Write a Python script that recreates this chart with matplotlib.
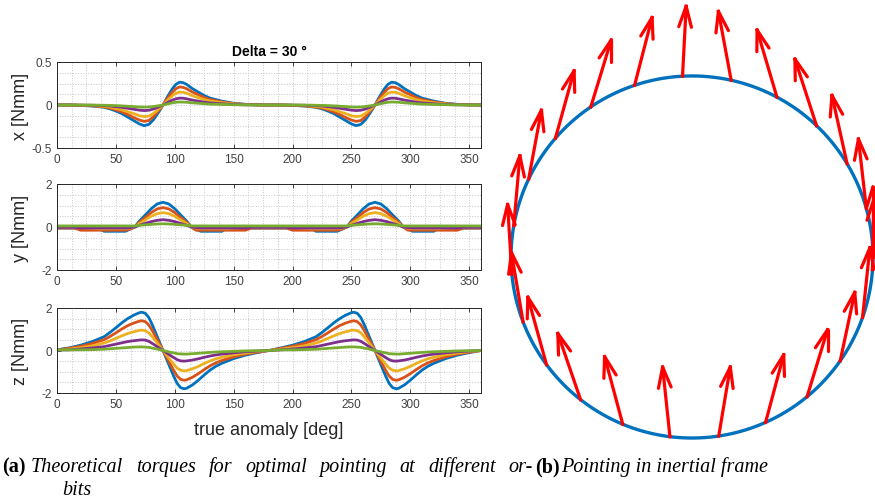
import numpy as np
import matplotlib
matplotlib.use("Agg")
from matplotlib import pyplot as plt
from matplotlib.ticker import MultipleLocator, FormatStrFormatter

# %% Torque profiles, read over half an orbit (the profile repeats every 180 deg)
x_deg = [0, 10, 20, 30, 40, 45, 50, 55, 60, 65, 70, 74, 78, 82, 86, 90, 94, 98, 101, 104,
         107, 110, 115, 120, 125, 130, 140, 150, 160, 170, 180]
x_blue = [0, 0, -0.005, -0.012, -0.027, -0.045, -0.07, -0.1, -0.14, -0.18, -0.22, -0.24, -0.225, -0.17,
          -0.09, 0, 0.1, 0.19, 0.24, 0.265, 0.26, 0.24, 0.19, 0.15, 0.11, 0.08, 0.045, 0.02, 0.008, 0.002, 0]
x_orange = [0, 0, -0.004, -0.01, -0.022, -0.036, -0.056, -0.08, -0.11, -0.145, -0.175, -0.19, -0.18, -0.135,
            -0.07, 0, 0.08, 0.15, 0.19, 0.21, 0.205, 0.19, 0.15, 0.12, 0.087, 0.063, 0.036, 0.016, 0.006, 0.002, 0]
x_yellow = [0, 0, -0.003, -0.007, -0.015, -0.025, -0.04, -0.056, -0.078, -0.1, -0.125, -0.135, -0.128, -0.097,
            -0.05, 0, 0.057, 0.108, 0.137, 0.15, 0.148, 0.137, 0.108, 0.085, 0.063, 0.046, 0.026, 0.011, 0.005, 0.001, 0]
x_purple = [0, 0, -0.001, -0.003, -0.007, -0.012, -0.019, -0.027, -0.038, -0.049, -0.06, -0.065, -0.061, -0.046,
            -0.024, 0, 0.03, 0.057, 0.072, 0.08, 0.079, 0.072, 0.057, 0.045, 0.033, 0.024, 0.014, 0.006, 0.002, 0.001, 0]
x_green = [0, 0, 0, -0.001, -0.003, -0.005, -0.007, -0.01, -0.014, -0.019, -0.023, -0.025, -0.023, -0.018,
           -0.009, 0, 0.013, 0.025, 0.032, 0.035, 0.034, 0.032, 0.025, 0.02, 0.015, 0.01, 0.006, 0.003, 0.001, 0, 0]

y_deg = [0, 15, 20, 35, 40, 58, 62, 66, 70, 75, 80, 85, 90, 95, 100, 105, 110, 114, 118, 122,
         140, 144, 160, 165, 180]
y_blue = [-0.05, -0.05, -0.05, -0.05, -0.2, -0.2, -0.1, 0, 0.28, 0.56, 0.85, 1.07, 1.15, 1.07, 0.85,
          0.56, 0.28, 0, -0.1, -0.2, -0.2, -0.05, -0.05, -0.05, -0.05]
y_orange = [-0.05, -0.05, -0.15, -0.15, -0.15, -0.15, -0.1, 0, 0.22, 0.44, 0.67, 0.84, 0.9, 0.84, 0.67,
            0.44, 0.22, 0, -0.15, -0.15, -0.15, -0.15, -0.15, -0.05, -0.05]
y_yellow = [-0.03, -0.03, -0.03, -0.08, -0.08, -0.08, -0.05, 0, 0.16, 0.33, 0.5, 0.62, 0.67, 0.62, 0.5,
            0.33, 0.16, 0, -0.05, -0.08, -0.08, -0.08, -0.03, -0.03, -0.03]
y_purple = [-0.02, -0.02, -0.05, -0.05, -0.05, -0.05, -0.03, 0, 0.08, 0.17, 0.25, 0.31, 0.34, 0.31, 0.25,
            0.17, 0.08, 0, -0.03, -0.05, -0.05, -0.05, -0.05, -0.02, -0.02]
y_green = [0.05, 0.05, 0.05, 0.05, 0.05, 0.05, 0.05, 0.05, 0.08, 0.1, 0.12, 0.14, 0.15, 0.14, 0.12,
           0.1, 0.08, 0.05, 0.05, 0.05, 0.05, 0.05, 0.05, 0.05, 0.05]

z_deg = [0, 10, 20, 30, 40, 45, 50, 55, 60, 65, 70, 72, 75, 78, 81, 84, 87, 90, 93, 96, 99, 102,
         105, 108, 110, 115, 120, 125, 130, 135, 140, 150, 160, 170, 180]
z_blue = [0.03, 0.12, 0.25, 0.42, 0.65, 0.85, 1.07, 1.3, 1.5, 1.66, 1.78, 1.8, 1.75, 1.55, 1.2, 0.8, 0.4,
          0, -0.4, -0.8, -1.2, -1.55, -1.75, -1.8, -1.78, -1.62, -1.4, -1.15, -0.92, -0.74, -0.6, -0.38,
          -0.22, -0.1, 0]
z_orange = [0.03, 0.1, 0.2, 0.33, 0.51, 0.66, 0.83, 1.01, 1.17, 1.29, 1.38, 1.4, 1.36, 1.2, 0.93, 0.62,
            0.31, 0, -0.31, -0.62, -0.93, -1.2, -1.36, -1.4, -1.38, -1.26, -1.09, -0.9, -0.72, -0.58,
            -0.47, -0.3, -0.17, -0.08, 0]
z_yellow = [0.03, 0.06, 0.13, 0.22, 0.35, 0.45, 0.57, 0.69, 0.8, 0.88, 0.95, 0.96, 0.93, 0.83, 0.64, 0.43,
            0.21, 0, -0.21, -0.43, -0.64, -0.83, -0.93, -0.96, -0.95, -0.86, -0.75, -0.61, -0.49, -0.39,
            -0.32, -0.2, -0.12, -0.05, 0]
z_purple = [0.03, 0.03, 0.07, 0.12, 0.18, 0.24, 0.3, 0.36, 0.42, 0.46, 0.49, 0.5, 0.49, 0.43, 0.33, 0.22,
            0.11, 0, -0.11, -0.22, -0.33, -0.43, -0.49, -0.5, -0.49, -0.45, -0.39, -0.32, -0.26, -0.21,
            -0.17, -0.11, -0.06, -0.03, 0]
z_green = [0.03, 0.03, 0.03, 0.04, 0.06, 0.08, 0.1, 0.12, 0.14, 0.16, 0.17, 0.17, 0.16, 0.15, 0.11, 0.08,
           0.04, 0, -0.04, -0.08, -0.11, -0.15, -0.16, -0.17, -0.17, -0.15, -0.13, -0.11, -0.09, -0.07,
           -0.06, -0.04, -0.02, -0.01, 0]

# MATLAB default line colours
colors = ["#0072BD", "#D95319", "#EDB120", "#7E2F8E", "#77AC30"]

# %% Pointing vectors around the orbit: position on orbit and arrow direction [deg]
pos_deg = [0, 15.5, 31, 46.5, 62, 77.5, 93, 108.5, 124, 139, 154.5, 170, 185.5, 201, 216.5, 232,
           247.5, 263, 278.5, 294, 309.5, 325, 340.5, 356]
dir_deg = [90, 96.5, 102.5, 108, 106.5, 100.5, 87, 75.5, 73, 74.5, 79.5, 85, 93.5, 99.5, 105.5, 109,
           105, 96, 80.5, 75, 73, 78, 84, 89]

caption_a = ["Theoretical", "torques", "for", "optimal", "pointing", "at", "different", "or-"]


def full_orbit(deg, vals):
    deg = np.asarray(deg, float)
    vals = np.asarray(vals, float)
    return np.r_[deg, deg[1:] + 180], np.r_[vals, vals[1:]]


# %% Figure
W, H = 875, 502
plt.rcParams['font.family'] = ['Liberation Sans', 'DejaVu Sans']
plt.rcParams['axes.unicode_minus'] = False
fig = plt.figure(figsize=(W / 100, H / 100), dpi=100)

panels = [
    (63, 149, x_deg, [x_blue, x_orange, x_yellow, x_purple, x_green], (-0.5, 0.5), 0.5, "x [Nmm]"),
    (185, 271, y_deg, [y_blue, y_orange, y_yellow, y_purple, y_green], (-2, 2), 2, "y [Nmm]"),
    (309, 394, z_deg, [z_blue, z_orange, z_yellow, z_purple, z_green], (-2, 2), 2, "z [Nmm]"),
]
axes = []
for top, bot, deg, series, ylim, ystep, lab in panels:
    ax = fig.add_axes([57 / W, 1 - bot / H, 424 / W, (bot - top) / H])
    for vals, c in zip(series, colors):
        xx, yy = full_orbit(deg, vals)
        ax.plot(xx, yy, color=c, lw=2.0)
    ax.set_xlim(0, 360)
    ax.set_ylim(*ylim)
    ax.xaxis.set_major_locator(MultipleLocator(50))
    ax.xaxis.set_minor_locator(MultipleLocator(12.5))
    ax.yaxis.set_major_locator(MultipleLocator(ystep))
    ax.yaxis.set_minor_locator(MultipleLocator(ystep / 4))
    ax.yaxis.set_major_formatter(FormatStrFormatter('%g'))
    ax.grid(which='both', ls=':', color='0.78', lw=0.7)
    ax.set_axisbelow(True)
    ax.tick_params(which='major', direction='in', length=3, width=0.6, top=True, right=True,
                   labelsize=8.5, labelcolor='#404040', color='#262626')
    ax.tick_params(which='minor', length=0)
    for s in ax.spines.values():
        s.set_color('#262626')
        s.set_linewidth(0.7)
    ax.set_ylabel(lab, fontsize=13, color='#262626')
    ax.yaxis.set_label_coords(-0.066, 0.5)
    axes.append(ax)

axes[0].set_title("Delta = 30 °", fontsize=10, fontweight='bold', pad=5)
axes[2].set_xlabel("true anomaly [deg]", fontsize=13, color='#262626')
axes[2].xaxis.set_label_coords(0.5, -0.33)

# %% Orbit with pointing arrows
ax_r = fig.add_axes([500 / W, (H - 445) / H, 380 / W, 445 / H])
ax_r.set_xlim(-1.061, 1.039)
ax_r.set_ylim(-1.033, 1.425)
ax_r.axis('off')
t = np.linspace(0, 2 * np.pi, 400)
ax_r.plot(np.cos(t), np.sin(t), color="#0072BD", lw=2.4, zorder=1)

L = 0.387          # arrow length (orbit radius = 1)
hl = 0.12          # head length
ha = np.deg2rad(17)
for p, d in zip(pos_deg, dir_deg):
    bx, by = np.cos(np.deg2rad(p)), np.sin(np.deg2rad(p))
    a = np.deg2rad(d)
    tx, ty = bx + L * np.cos(a), by + L * np.sin(a)
    ax_r.plot([bx, tx], [by, ty], color='red', lw=2.3, zorder=2)
    for s in (-1, 1):
        ax_r.plot([tx, tx - hl * np.cos(a + s * ha)], [ty, ty - hl * np.sin(a + s * ha)],
                  color='red', lw=2.3, zorder=2, solid_capstyle='round')

# %% Captions (left one justified across the subfigure width)
serif = ['Liberation Serif', 'DejaVu Serif']
fs = 14.5
y1, y2 = 1 - 472 / H, 1 - 495 / H
fig.text(2 / W, y1, "(a)", family=serif, fontsize=fs, fontweight='bold')
r = fig.canvas.get_renderer()
words = [fig.text(0, y1, w, family=serif, fontsize=fs, style='italic') for w in caption_a]
widths = [w.get_window_extent(r).width for w in words]
x0, x1 = 31, 533
gap = (x1 - x0 - sum(widths)) / (len(words) - 1)
xpos = x0
for w, wd in zip(words, widths):
    w.set_x(xpos / W)
    xpos += wd + gap
fig.text(62 / W, y2, "bits", family=serif, fontsize=fs, style='italic')
fig.text(535 / W, y1, "(b)", family=serif, fontsize=fs, fontweight='bold')
fig.text(561 / W, y1, "Pointing in inertial frame", family=serif, fontsize=fs, style='italic')

fig.savefig("out.png", dpi=100)
